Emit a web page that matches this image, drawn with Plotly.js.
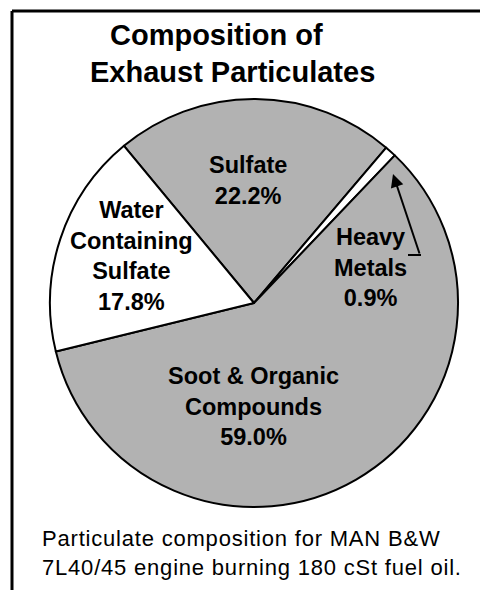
<!DOCTYPE html>
<html>
<head>
<meta charset="utf-8">
<script src="https://cdn.plot.ly/plotly-3.0.1.min.js"></script>
<style>
html,body{margin:0;padding:0;background:#fff;}
#chart{width:480px;height:590px;}
g.annotation[data-index="7"] text{letter-spacing:0.8px;}
</style>
</head>
<body>
<div id="chart"></div>
<script>
// Data
var categories = ['Sulfate', 'Heavy Metals', 'Soot & Organic Compounds', 'Water Containing Sulfate'];
var labelLines = ['Sulfate', 'Heavy<br>Metals', 'Soot & Organic<br>Compounds', 'Water<br>Containing<br>Sulfate'];
var percentages = [22.2, 0.9, 59.0, 17.8];
var titleLines = ['Composition of', 'Exhaust Particulates'];
var caption = 'Particulate composition for MAN B&W<br>7L40/45 engine burning 180 cSt fuel oil.';

// Styles / layout
var W = 480, H = 590;
var sliceColors = ['#b2b2b2', '#ffffff', '#b2b2b2', '#ffffff'];
var cx = 254, cy = 303, R = 204;
function px(x) { return x / W; }
function py(y) { return 1 - y / H; }
var FONT = 'Liberation Sans, Arial, Helvetica, sans-serif';

// label anchor positions (pixels) for each slice
var labelPos = [[248, 181], [370, 267], [253, 406], [131, 256]];

var trace = {
  type: 'pie',
  labels: categories,
  values: percentages,
  sort: false,
  direction: 'clockwise',
  rotation: -39.6,
  marker: { colors: sliceColors, line: { color: '#000', width: 2 } },
  textinfo: 'none',
  hoverinfo: 'label+value',
  domain: { x: [px(cx - R), px(cx + R)], y: [py(cy + R), py(cy - R)] }
};

var annotations = [];
annotations.push({ xref: 'paper', yref: 'paper', x: px(216), y: py(35), xanchor: 'center', yanchor: 'middle',
  text: titleLines[0], showarrow: false, font: { family: FONT, size: 29, color: '#000', weight: 'bold' } });
annotations.push({ xref: 'paper', yref: 'paper', x: px(232), y: py(72), xanchor: 'center', yanchor: 'middle',
  text: titleLines[1], showarrow: false, font: { family: FONT, size: 29, color: '#000', weight: 'bold' } });

for (var i = 0; i < categories.length; i++) {
  annotations.push({
    xref: 'paper', yref: 'paper', x: px(labelPos[i][0]), y: py(labelPos[i][1]),
    xanchor: 'center', yanchor: 'middle', align: 'center', showarrow: false,
    text: labelLines[i] + '<br>' + percentages[i].toFixed(1) + '%',
    font: { family: FONT, size: 23.5, color: '#000', weight: 'bold' }
  });
}

// arrow for Heavy Metals
annotations.push({
  xref: 'paper', yref: 'paper', x: px(393), y: py(174), text: '', showarrow: true,
  axref: 'pixel', ayref: 'pixel', ax: 27, ay: 81, arrowhead: 2, arrowsize: 1.3, arrowwidth: 2, arrowcolor: '#000'
});

annotations.push({
  xref: 'paper', yref: 'paper', x: px(40), y: py(553), xanchor: 'left', yanchor: 'middle', align: 'left',
  text: caption, showarrow: false, font: { family: FONT, size: 22, color: '#000' }
});

var shapes = [
  { type: 'line', xref: 'paper', yref: 'paper', x0: px(12), x1: px(W + 5), y0: py(11), y1: py(11), line: { color: '#000', width: 3 } },
  { type: 'line', xref: 'paper', yref: 'paper', x0: px(12), x1: px(12), y0: py(11), y1: py(H + 5), line: { color: '#000', width: 3 } },
  { type: 'line', xref: 'paper', yref: 'paper', x0: px(408), x1: px(421), y0: py(255), y1: py(255), line: { color: '#000', width: 2 } }
];

var layout = {
  width: W, height: H,
  margin: { l: 0, r: 0, t: 0, b: 0, pad: 0 },
  paper_bgcolor: '#fff',
  showlegend: false,
  annotations: annotations,
  shapes: shapes
};

Plotly.newPlot('chart', [trace], layout, { displayModeBar: false, staticPlot: true });
</script>
</body>
</html>
